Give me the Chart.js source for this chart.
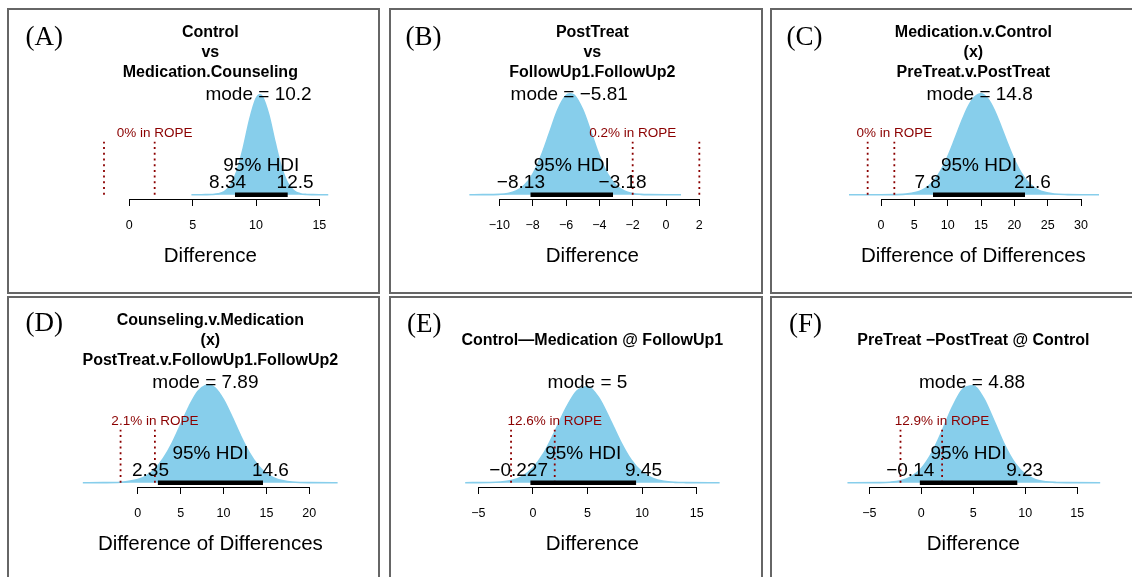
<!DOCTYPE html>
<html>
<head>
<meta charset="utf-8">
<script src="https://cdn.jsdelivr.net/npm/chart.js@4.4.1/dist/chart.umd.min.js"></script>
<style>
  html, body { margin: 0; padding: 0; background: #fff; }
  body { position: relative; width: 1132px; height: 577px; overflow: hidden; }
  .box { position: absolute; border: 2px solid #666; box-sizing: border-box; }
  .tag { position: absolute; font-family: "Liberation Serif", "Times New Roman", serif; font-size: 27px; line-height: 27px; color: #000; white-space: nowrap; }
  canvas { position: absolute; }
</style>
</head>
<body>
<div id="page"></div>
<script>
// ---- posterior summaries ----
const panelTags = ['(A)', '(B)', '(C)', '(D)', '(E)', '(F)'];
const titles = [
  ['Control', 'vs', 'Medication.Counseling'],
  ['PostTreat', 'vs', 'FollowUp1.FollowUp2'],
  ['Medication.v.Control', '(x)', 'PreTreat.v.PostTreat'],
  ['Counseling.v.Medication', '(x)', 'PostTreat.v.FollowUp1.FollowUp2'],
  ['Control\u2014Medication @ FollowUp1'],
  ['PreTreat \u2212PostTreat @ Control']
];
const axisTitles = ['Difference', 'Difference', 'Difference of Differences',
                    'Difference of Differences', 'Difference', 'Difference'];
const modes = [10.2, -5.81, 14.8, 7.89, 5, 4.88];
const hdiLow = [8.34, -8.13, 7.8, 2.35, -0.227, -0.14];
const hdiHigh = [12.5, -3.18, 21.6, 14.6, 9.45, 9.23];
const ropeLow = [-2, -2, -2, -2, -2, -2];
const ropeHigh = [2, 2, 2, 2, 2, 2];
const pctInRope = ['0%', '0.2%', '0%', '2.1%', '12.6%', '12.9%'];
const ropeLabelAt = [2, -2, 2, 2, 2, 2];
const tickValues = [
  [0, 5, 10, 15],
  [-10, -8, -6, -4, -2, 0, 2],
  [0, 5, 10, 15, 20, 25, 30],
  [0, 5, 10, 15, 20],
  [-5, 0, 5, 10, 15],
  [-5, 0, 5, 10, 15]
];

// ---- posterior density curves ----
const densX_A = [4.9, 5.5, 6, 6.5, 7, 7.5, 8, 8.5, 9, 9.5, 10, 10.3, 10.5, 11, 11.5, 12, 12.5, 13, 13.5, 14, 14.5, 15, 15.7];
const densY_A = [0, 0, 0.0001, 0.0006, 0.003, 0.0117, 0.0357, 0.0887, 0.177, 0.283, 0.361, 0.376, 0.369, 0.302, 0.198, 0.104, 0.0432, 0.0147, 0.0039, 0.0008, 0.0002, 0, 0];

const densX_B = [-11.8, -11, -10, -9.5, -9, -8.5, -8, -7.5, -7, -6.5, -6, -5.75, -5.5, -5, -4.5, -4, -3.5, -3, -2.5, -2, -1.5, -1, 0, 0.9];
const densY_B = [0, 0.0001, 0.0011, 0.0037, 0.0113, 0.0293, 0.0636, 0.120, 0.192, 0.265, 0.310, 0.316, 0.311, 0.266, 0.195, 0.121, 0.0640, 0.0295, 0.0114, 0.0038, 0.0011, 0.0003, 0, 0];

const densX_C = [-4.8, -2, 0, 2, 4, 6, 7, 8, 9, 10, 11, 12, 13, 14, 15, 16, 17, 18, 19, 20, 21, 22, 23, 24, 26, 28, 30, 32.7];
const densY_C = [0, 0, 0, 0.0001, 0.0009, 0.0046, 0.0089, 0.0163, 0.0275, 0.0428, 0.0613, 0.0808, 0.0984, 0.110, 0.114, 0.1085, 0.0952, 0.077, 0.0575, 0.0394, 0.0249, 0.0145, 0.0078, 0.0039, 0.0007, 0.0001, 0, 0];

const densX_D = [-6.4, -4, -2, 0, 1, 2, 3, 4, 5, 6, 7, 8, 8.2, 9, 10, 11, 12, 13, 14, 15, 16, 17, 18, 20, 23.3];
const densY_D = [0, 0.0001, 0.0006, 0.0040, 0.0089, 0.0177, 0.0319, 0.0514, 0.0755, 0.0998, 0.119, 0.1277, 0.128, 0.1239, 0.1084, 0.0856, 0.0609, 0.0392, 0.0228, 0.0119, 0.0056, 0.0024, 0.0009, 0.0001, 0];

const densX_E = [-6.2, -4, -3, -2, -1, 0, 1, 2, 3, 4, 5, 6, 7, 8, 9, 10, 11, 12, 13, 14, 17.1];
const densY_E = [0, 0.0003, 0.0011, 0.0037, 0.0102, 0.0246, 0.0494, 0.0850, 0.1238, 0.1533, 0.1610, 0.1435, 0.1085, 0.0698, 0.0381, 0.0176, 0.0070, 0.0023, 0.0006, 0.0002, 0];

const densX_F = [-7.1, -4, -3, -2, -1, 0, 1, 2, 3, 4, 5, 6, 7, 8, 9, 10, 11, 12, 13, 14, 17.2];
const densY_F = [0, 0.0002, 0.0009, 0.0033, 0.0097, 0.0241, 0.0504, 0.0882, 0.1296, 0.160, 0.1657, 0.144, 0.1052, 0.0645, 0.0331, 0.0142, 0.0052, 0.0016, 0.0004, 0.0001, 0];

const densX = [densX_A, densX_B, densX_C, densX_D, densX_E, densX_F];
const densY = [densY_A, densY_B, densY_C, densY_D, densY_E, densY_F];

// ---- page layout ----
const FONT = '"Liberation Sans", Arial, Helvetica, sans-serif';
const SKY = '#87CEEB';
const ROPE_RED = '#8B0000';
const W = 365, H = 280;
const AREA_LEFT = 64.7, AREA_RIGHT = 340, AREA_TOP = 20, AXIS_BOX = 90;
const BASE_GAP = 4.3;     // density baseline sits just above the axis line
const ROPE_TOP_PX = 53;   // height of the dotted ROPE markers

const boxes = [
  { left: 7, top: 8, w: 373, h: 286 },
  { left: 389, top: 8, w: 374, h: 286 },
  { left: 770, top: 8, w: 400, h: 286 },
  { left: 7, top: 296, w: 373, h: 300 },
  { left: 389, top: 296, w: 374, h: 300 },
  { left: 770, top: 296, w: 400, h: 300 }
];
const frames = [
  { left: 8, top: 9, xMin: -4.47, xMax: 17.26, peakPx: 100, tagX: 17.5, tagY: 14 },
  { left: 390, top: 9, xMin: -12.68, xMax: 3.84, peakPx: 101, tagX: 15.5, tagY: 14 },
  { left: 771, top: 9, xMin: -6.795, xMax: 34.5, peakPx: 101, tagX: 15.5, tagY: 14 },
  { left: 8, top: 297, xMin: -7.58, xMax: 24.51, peakPx: 98, tagX: 17.5, tagY: 12 },
  { left: 390, top: 297, xMin: -7.16, xMax: 18.05, peakPx: 96, tagX: 17, tagY: 13 },
  { left: 771, top: 297, xMin: -8.23, xMax: 18.24, peakPx: 97, tagX: 18, tagY: 13 }
];

const fmt = v => String(v).replace('-', '\u2212');

Chart.defaults.font.family = FONT;
Chart.defaults.color = '#000';

// Text labels, titles and the R-style axis line of each posterior panel
const postAnnot = {
  id: 'postAnnot',
  afterDatasetsDraw(chart, args, o) {
    const i = o.index;
    const { ctx, chartArea: a } = chart;
    const xs = chart.scales.x;
    const px = v => xs.getPixelForValue(v);
    const cx = (a.left + a.right) / 2;
    ctx.save();

    // axis line spanning first to last tick
    const t = tickValues[i];
    const x0 = Math.round(px(t[0]) - 0.5) + 0.5;
    const x1 = Math.round(px(t[t.length - 1]) - 0.5) + 0.5;
    const ay = Math.round(a.bottom) + 0.5;
    ctx.strokeStyle = '#000';
    ctx.lineWidth = 1;
    ctx.beginPath();
    ctx.moveTo(x0 - 0.5, ay);
    ctx.lineTo(x1 + 0.5, ay);
    ctx.stroke();

    ctx.fillStyle = '#000';
    ctx.textAlign = 'center';
    ctx.textBaseline = 'alphabetic';

    // main title
    ctx.font = 'bold 16px ' + FONT;
    const lines = titles[i];
    const ys = lines.length === 3 ? [28.3, 48.3, 67.5] : [48];
    lines.forEach((s, k) => ctx.fillText(s, cx, ys[k]));

    // central tendency and HDI
    ctx.font = '19px ' + FONT;
    ctx.fillText('mode = ' + fmt(modes[i]), px(modes[i]), 91);
    ctx.fillText('95% HDI', px((hdiLow[i] + hdiHigh[i]) / 2), 161.5);
    ctx.textAlign = 'left';
    const lo = fmt(hdiLow[i]), hi = fmt(hdiHigh[i]);
    ctx.fillText(lo, px(hdiLow[i]) - 0.7 * ctx.measureText(lo).width, 179.3);
    ctx.fillText(hi, px(hdiHigh[i]) - 0.3 * ctx.measureText(hi).width, 179.3);

    // ROPE share
    ctx.textAlign = 'center';
    ctx.font = '13.5px ' + FONT;
    ctx.fillStyle = ROPE_RED;
    ctx.fillText(pctInRope[i] + ' in ROPE', px(ropeLabelAt[i]), 128);
    ctx.restore();
  }
};

const page = document.getElementById('page');

boxes.forEach(b => {
  const d = document.createElement('div');
  d.className = 'box';
  Object.assign(d.style, { left: b.left + 'px', top: b.top + 'px', width: b.w + 'px', height: b.h + 'px' });
  page.appendChild(d);
});

frames.forEach((f, i) => {
  const cv = document.createElement('canvas');
  cv.width = W; cv.height = H;
  Object.assign(cv.style, { left: f.left + 'px', top: f.top + 'px', width: W + 'px', height: H + 'px' });
  page.appendChild(cv);

  const tag = document.createElement('div');
  tag.className = 'tag';
  tag.textContent = panelTags[i];
  Object.assign(tag.style, { left: (f.left + f.tagX) + 'px', top: (f.top + f.tagY) + 'px' });
  page.appendChild(tag);

  const plotH = H - AXIS_BOX - AREA_TOP;
  const peak = Math.max(...densY[i]);
  const perPx = peak / f.peakPx;
  const yMin = -BASE_GAP * perPx;
  const yMax = yMin + plotH * perPx;
  const ropeTop = ROPE_TOP_PX * perPx;

  const ropeLine = v => ({
    data: [{ x: v, y: 0 }, { x: v, y: ropeTop }],
    borderColor: ROPE_RED, borderWidth: 1.8, borderDash: [2, 3.7],
    pointRadius: 0, fill: false, order: 2
  });

  new Chart(cv, {
    type: 'line',
    data: {
      datasets: [
        {
          data: densX[i].map((x, k) => ({ x, y: densY[i][k] })),
          fill: 'origin', backgroundColor: SKY, borderColor: SKY, borderWidth: 1.6,
          pointRadius: 0, cubicInterpolationMode: 'monotone', order: 10
        },
        {
          data: [{ x: hdiLow[i], y: 0 }, { x: hdiHigh[i], y: 0 }],
          borderColor: '#000', borderWidth: 4.5, borderCapStyle: 'butt',
          pointRadius: 0, fill: false, order: 1
        },
        ropeLine(ropeLow[i]),
        ropeLine(ropeHigh[i])
      ]
    },
    options: {
      responsive: false,
      animation: false,
      events: [],
      layout: { padding: { left: AREA_LEFT, right: W - AREA_RIGHT, top: AREA_TOP, bottom: 0 } },
      plugins: { legend: { display: false }, tooltip: { enabled: false }, postAnnot: { index: i } },
      scales: {
        x: {
          type: 'linear', min: f.xMin, max: f.xMax,
          afterBuildTicks: s => { s.ticks = tickValues[i].map(v => ({ value: v })); },
          afterFit: s => { s.height = AXIS_BOX; },
          grid: { drawOnChartArea: false, drawTicks: true, tickLength: 7, color: '#000', lineWidth: 1 },
          border: { display: false },
          ticks: { padding: 12.5, font: { size: 12.5 }, color: '#000', maxRotation: 0, autoSkip: false, callback: v => fmt(v) },
          title: { display: true, text: axisTitles[i], font: { size: 20.5 }, color: '#000', padding: { top: 0, bottom: 20.5 } }
        },
        y: { display: false, min: yMin, max: yMax }
      }
    },
    plugins: [postAnnot]
  });
});
</script>
</body>
</html>
